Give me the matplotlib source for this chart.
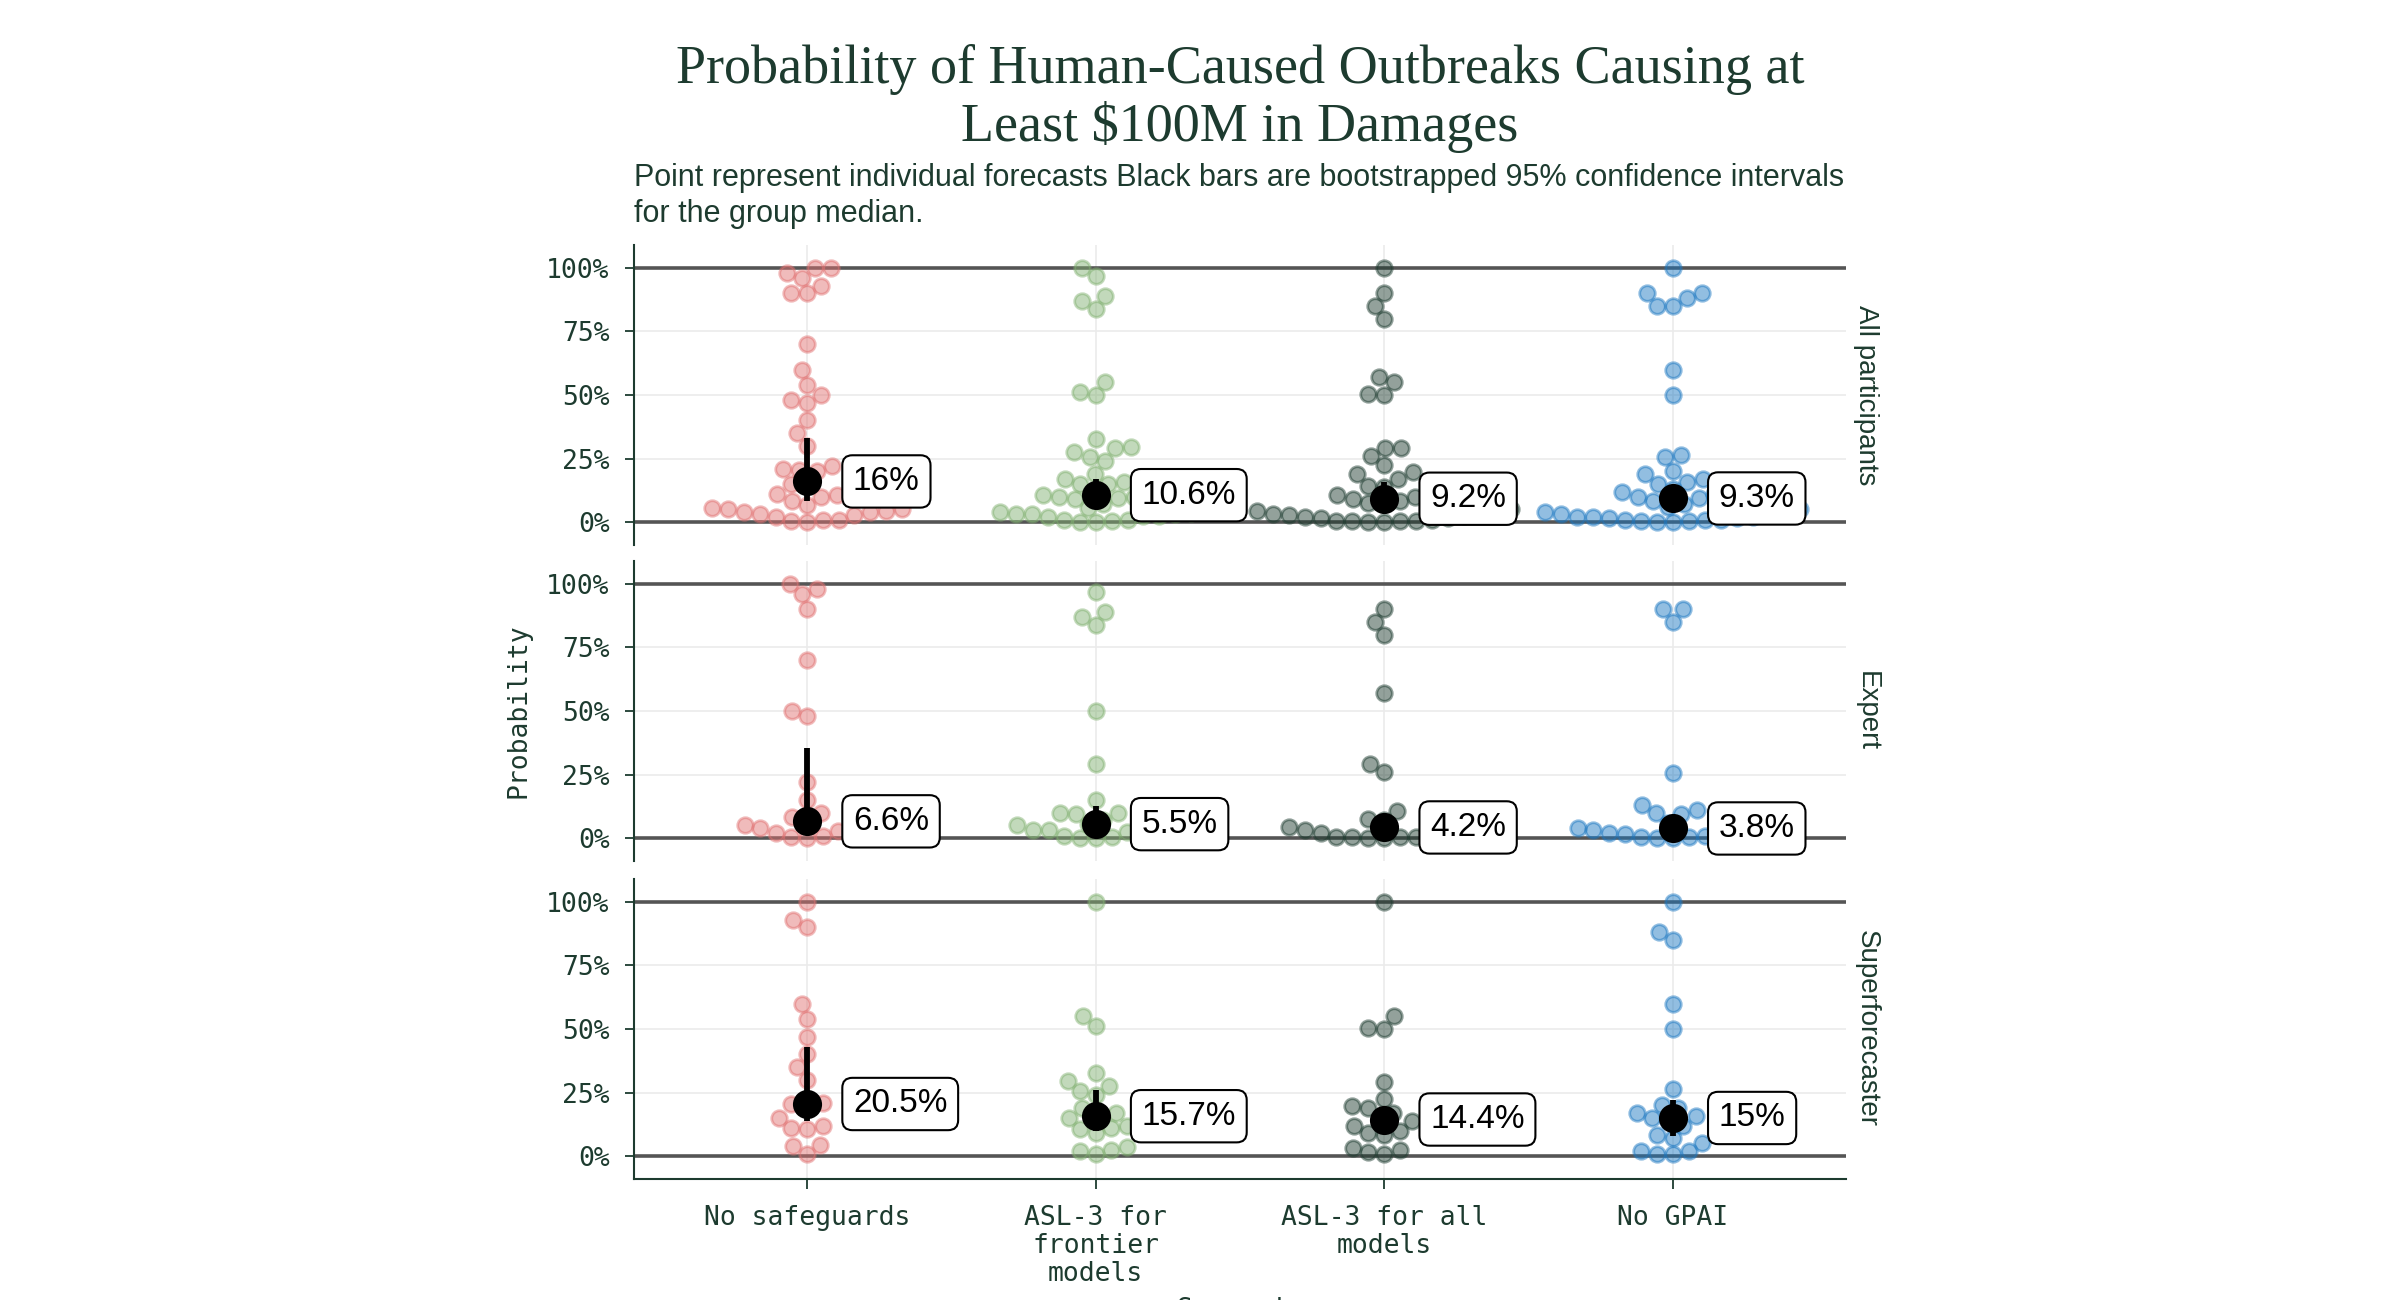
import numpy as np
import matplotlib
matplotlib.use("Agg")
import matplotlib.pyplot as plt

# ---------------- data (percent) ----------------
scenarios = ["No safeguards", "ASL-3 for\nfrontier\nmodels", "ASL-3 for all\nmodels", "No GPAI"]
panel_labels = ["All participants", "Expert", "Superforecaster"]
colors = ["#E17171", "#81B171", "#1D3B2F", "#1B77C1"]

expert_no_safeguards = [100, 98, 96, 90, 70, 50, 48, 22, 15, 10, 8.5, 6.6, 5.5, 5, 5, 4, 3, 2.7, 2, 1, 0.5, 0]
super_no_safeguards = [100, 93, 90, 60, 54, 47, 40, 35, 30, 21, 20.5, 20, 15, 12, 11, 10.5, 4.5, 4, 1]

expert_asl3_frontier = [97, 89, 87, 84, 50, 29, 15, 10, 10, 9.5, 7, 5.5, 5, 4, 3.3, 3, 3, 2.6, 1, 0.5, 0, 0]
super_asl3_frontier = [100, 55, 51, 32.7, 29.5, 27.5, 25.5, 24, 19, 17, 15.7, 15, 12, 11, 10.5, 9, 3.5, 2.6, 2.2, 1]

expert_asl3_all = [90, 85, 80, 57, 29, 26, 10.8, 7.5, 7, 5, 4.2, 4, 3, 2.7, 2.2, 1.5, 0.6, 0.6, 0.6, 0.5, 0, 0]
super_asl3_all = [100, 55, 50.5, 50, 29, 22.5, 19.6, 19, 17, 14.4, 14, 12, 10, 9, 8.5, 3.3, 2.6, 1.7, 1]

expert_no_gpai = [90, 90, 85, 25.5, 13, 11, 10, 9.5, 6, 4, 3.8, 3, 2.7, 2, 1.7, 1.5, 1, 0.5, 0.4, 0, 0]
super_no_gpai = [100, 88, 85, 60, 50, 26.4, 20, 19, 17, 15.7, 15, 14, 11.8, 8.2, 7, 5.2, 2.2, 2, 0.9, 0.7]

median_all = [16, 10.6, 9.2, 9.3]
median_expert = [6.6, 5.5, 4.2, 3.8]
median_super = [20.5, 15.7, 14.4, 15]

ci_low_all = [8.5, 7, 5, 6]
ci_high_all = [33, 17, 15.7, 13]
ci_low_expert = [3, 3, 2, 2]
ci_high_expert = [35.5, 12.5, 8, 8]
ci_low_super = [13.7, 10, 10, 7.8]
ci_high_super = [43, 26, 19, 22]

yticks = [0, 25, 50, 75, 100]
ytick_labels = ["0%", "25%", "50%", "75%", "100%"]

title = "Probability of Human-Caused Outbreaks Causing at\nLeast \\$100M in Damages"
subtitle = ("Point represent individual forecasts Black bars are bootstrapped 95% confidence intervals\n"
            "for the group median.")

# ---------------- assemble ----------------
expert_sets = [expert_no_safeguards, expert_asl3_frontier, expert_asl3_all, expert_no_gpai]
super_sets = [super_no_safeguards, super_asl3_frontier, super_asl3_all, super_no_gpai]
all_sets = [e + s for e, s in zip(expert_sets, super_sets)]
panels = [
    (all_sets, median_all, ci_low_all, ci_high_all),
    (expert_sets, median_expert, ci_low_expert, ci_high_expert),
    (super_sets, median_super, ci_low_super, ci_high_super),
]

TXT = "#1D3B2F"
MONO = ["DejaVu Sans Mono"]
SANS = ["Liberation Sans", "DejaVu Sans"]
SERIF = ["Liberation Serif", "DejaVu Serif"]
NARROW = ["Liberation Sans Narrow", "Liberation Sans", "DejaVu Sans"]

W, H = 2400, 1300
fig = plt.figure(figsize=(24, 13), dpi=100)
fig.patch.set_facecolor("white")

ax_left = 634 / W
ax_w = 1212 / W
ax_h = 300 / H
tops = [245, 561, 879]

XLIM = (-0.6, 3.6)
YLIM = (-0.09, 1.09)
DIAM = 16.0  # px spacing for swarm


def swarm_offsets(ypx, d):
    order = np.argsort(ypx, kind="stable")
    xs = np.zeros(len(ypx))
    placed = []
    for i in order:
        y = ypx[i]
        cands = [0.0]
        for (px, py) in placed:
            dy = y - py
            if abs(dy) < d:
                dx = np.sqrt(d * d - dy * dy)
                cands.extend([px - dx, px + dx])
        cands = sorted(cands, key=lambda c: (abs(c), c))
        for c in cands:
            if all((c - px) ** 2 + (y - py) ** 2 >= d * d - 1e-6 for px, py in placed):
                xs[i] = c
                break
        placed.append((xs[i], y))
    return xs


axes = []
for p, (sets, meds, lo, hi) in enumerate(panels):
    bottom = 1 - (tops[p] + 300) / H
    ax = fig.add_axes([ax_left, bottom, ax_w, ax_h])
    axes.append(ax)
    ax.set_xlim(*XLIM)
    ax.set_ylim(*YLIM)
    bb = ax.get_window_extent()
    px_per_x = bb.width / (XLIM[1] - XLIM[0])
    px_per_y = bb.height / (YLIM[1] - YLIM[0])

    # grid
    for yv in [0.25, 0.5, 0.75]:
        ax.axhline(yv, color="#EBEBEB", lw=1.2, zorder=0)
    for i in range(len(scenarios)):
        ax.axvline(i, color="#EBEBEB", lw=1.2, zorder=0)
    ax.axhline(0, color="#555555", lw=2.6, zorder=1)
    ax.axhline(1, color="#555555", lw=2.6, zorder=1)

    for i, vals in enumerate(sets):
        v = np.array(vals) / 100.0
        offs = swarm_offsets(v * px_per_y, DIAM) / px_per_x
        ax.scatter(i + offs, v, s=125, facecolor=colors[i], edgecolor=colors[i],
                   alpha=0.48, linewidths=2.0, zorder=3)
        ax.plot([i, i], [lo[i] / 100, hi[i] / 100], color="black", lw=4.2, zorder=4,
                solid_capstyle="butt")
        ax.scatter([i], [meds[i] / 100], s=440, color="black", zorder=5, linewidths=0)
        ax.annotate(f"{meds[i]:g}%", xy=(i, meds[i] / 100), xytext=(33, 0),
                    textcoords="offset points", ha="left", va="center",
                    fontsize=24, family=NARROW, color="black", zorder=6,
                    bbox=dict(boxstyle="round,pad=0.32,rounding_size=0.3",
                              fc="white", ec="black", lw=1.5))

    ax.set_yticks(np.array(yticks) / 100)
    ax.set_yticklabels(ytick_labels, family=MONO, fontsize=19, color=TXT)
    ax.tick_params(axis="y", length=6.5, width=1.3, color=TXT, pad=11)
    ax.set_xticks(range(len(scenarios)))
    for s in ["top", "right"]:
        ax.spines[s].set_visible(False)
    ax.spines["left"].set_color(TXT)
    ax.spines["left"].set_linewidth(1.5)
    if p < 2:
        ax.spines["bottom"].set_visible(False)
        ax.tick_params(axis="x", length=0, labelbottom=False)
    else:
        ax.spines["bottom"].set_color(TXT)
        ax.spines["bottom"].set_linewidth(1.5)
        ax.set_xticklabels(scenarios, family=MONO, fontsize=19, color=TXT,
                           linespacing=1.08)
        ax.tick_params(axis="x", length=7, width=1.3, color=TXT, pad=12)
    ax.grid(False)
    ax.text(1.006, 0.5, panel_labels[p], transform=ax.transAxes, rotation=-90,
            ha="left", va="center", fontsize=20, family=SANS, color=TXT)

fig.text(518 / W, 1 - 711 / H, "Probability", rotation=90, ha="center", va="center",
         fontsize=19, family=MONO, color=TXT)
fig.text(1240 / W, 1 - 1297 / H, "Scenario", ha="center", va="top",
         fontsize=19, family=MONO, color=TXT)
fig.text(1240 / W, 1 - 44 / H, title, ha="center", va="top", fontsize=39,
         family=SERIF, color=TXT, linespacing=1.15)
fig.text(634 / W, 1 - 163 / H, subtitle, ha="left", va="top", fontsize=22,
         family=SANS, color=TXT, linespacing=1.25)

fig.savefig("out.png", dpi=100, facecolor="white")
